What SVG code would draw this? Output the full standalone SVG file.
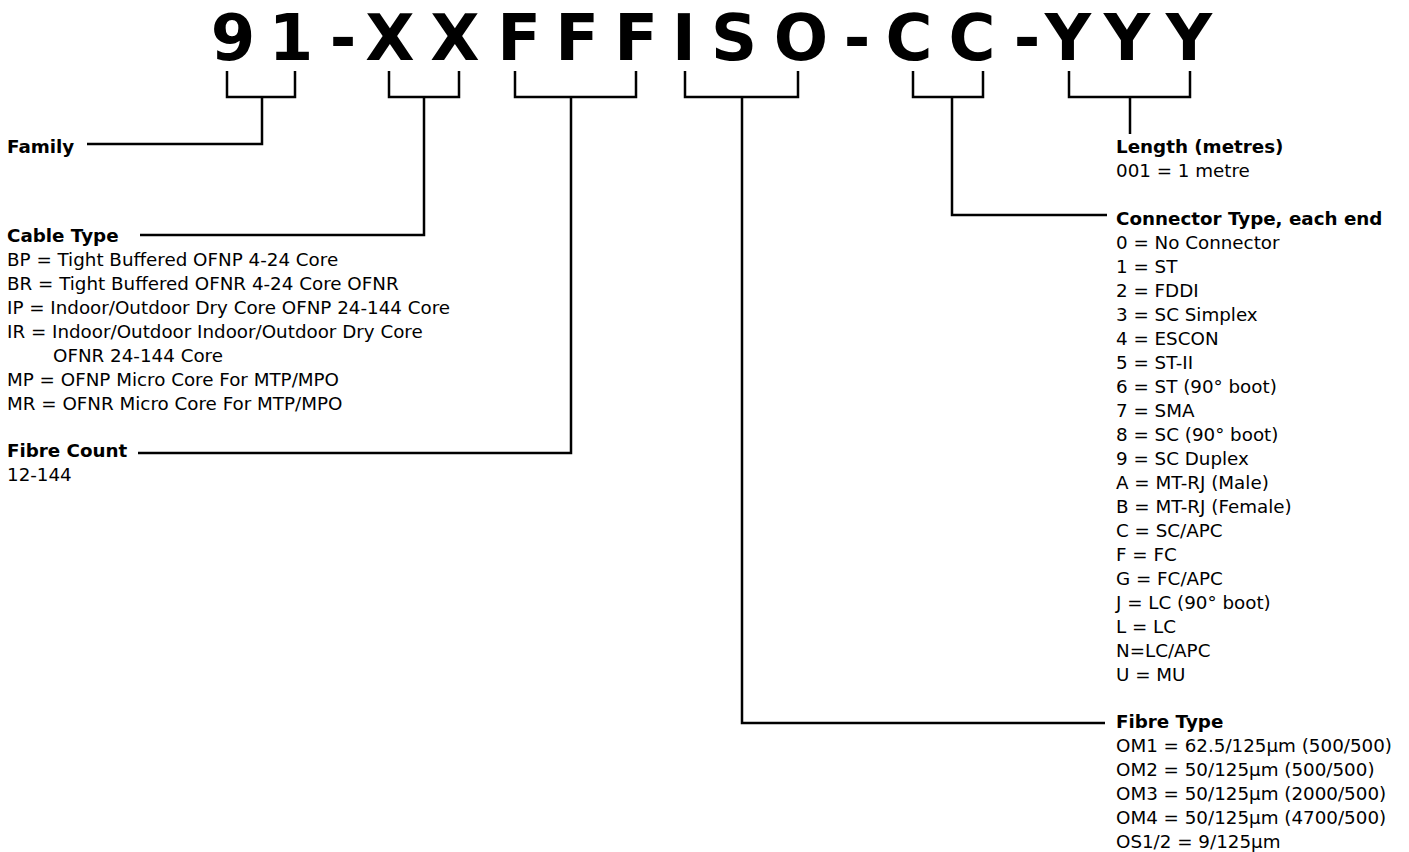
<svg xmlns="http://www.w3.org/2000/svg" width="1409" height="852" viewBox="0 0 1409 852">
<style>
text{font-family:"DejaVu Sans","Liberation Sans",sans-serif;fill:#000}
.code{font-size:64px;font-weight:bold;text-anchor:middle}
.h{font-size:18.3px;font-weight:bold}
.b{font-size:18.3px}
.ln{fill:none;stroke:#000;stroke-width:2.5;stroke-linejoin:miter;stroke-linecap:butt}
</style>
<rect width="1409" height="852" fill="#fff"/>
<g id="code">
<text class="code" x="233" y="60">9</text>
<text class="code" x="291" y="60">1</text>
<text class="code" x="343" y="60">-</text>
<text class="code" x="390" y="60">X</text>
<text class="code" x="455" y="60">X</text>
<text class="code" x="519" y="60">F</text>
<text class="code" x="577" y="60">F</text>
<text class="code" x="636" y="60">F</text>
<text class="code" x="684" y="60">I</text>
<text class="code" x="734" y="60">S</text>
<text class="code" x="801" y="60">O</text>
<text class="code" x="857" y="60">-</text>
<text class="code" x="909" y="60">C</text>
<text class="code" x="972" y="60">C</text>
<text class="code" x="1027" y="60">-</text>
<text class="code" x="1068" y="60">Y</text>
<text class="code" x="1127" y="60">Y</text>
<text class="code" x="1189" y="60">Y</text>
</g>
<g id="connectors">
<path class="ln" d="M227,71V97H295V71M262,97V144H87"/>
<path class="ln" d="M389,71V97H459V71M424,97V235H140"/>
<path class="ln" d="M515,71V97H636V71M571,97V453H138"/>
<path class="ln" d="M685,71V97H798V71M742,97V723H1105"/>
<path class="ln" d="M913,71V97H983V71M952,97V215H1107"/>
<path class="ln" d="M1069,71V97H1190V71M1130,97V134"/>
</g>
<g id="family">
<text class="h" x="7" y="153">Family</text>
</g>
<g id="cable-type">
<text class="h" x="7" y="242">Cable Type</text>
<text class="b" x="7" y="266">BP = Tight Buffered OFNP 4-24 Core</text>
<text class="b" x="7" y="290">BR = Tight Buffered OFNR 4-24 Core OFNR</text>
<text class="b" x="7" y="314">IP = Indoor/Outdoor Dry Core OFNP 24-144 Core</text>
<text class="b" x="7" y="338">IR = Indoor/Outdoor Indoor/Outdoor Dry Core</text>
<text class="b" x="53" y="362">OFNR 24-144 Core</text>
<text class="b" x="7" y="386">MP = OFNP Micro Core For MTP/MPO</text>
<text class="b" x="7" y="410">MR = OFNR Micro Core For MTP/MPO</text>
</g>
<g id="fibre-count">
<text class="h" x="7" y="457">Fibre Count</text>
<text class="b" x="7" y="481">12-144</text>
</g>
<g id="length">
<text class="h" x="1116" y="153">Length (metres)</text>
<text class="b" x="1116" y="177">001 = 1 metre</text>
</g>
<g id="connector-type">
<text class="h" x="1116" y="225">Connector Type, each end</text>
<text class="b" x="1116" y="249">0 = No Connector</text>
<text class="b" x="1116" y="273">1 = ST</text>
<text class="b" x="1116" y="297">2 = FDDI</text>
<text class="b" x="1116" y="321">3 = SC Simplex</text>
<text class="b" x="1116" y="345">4 = ESCON</text>
<text class="b" x="1116" y="369">5 = ST-II</text>
<text class="b" x="1116" y="393">6 = ST (90° boot)</text>
<text class="b" x="1116" y="417">7 = SMA</text>
<text class="b" x="1116" y="441">8 = SC (90° boot)</text>
<text class="b" x="1116" y="465">9 = SC Duplex</text>
<text class="b" x="1116" y="489">A = MT-RJ (Male)</text>
<text class="b" x="1116" y="513">B = MT-RJ (Female)</text>
<text class="b" x="1116" y="537">C = SC/APC</text>
<text class="b" x="1116" y="561">F = FC</text>
<text class="b" x="1116" y="585">G = FC/APC</text>
<text class="b" x="1116" y="609">J = LC (90° boot)</text>
<text class="b" x="1116" y="633">L = LC</text>
<text class="b" x="1116" y="657">N=LC/APC</text>
<text class="b" x="1116" y="681">U = MU</text>
</g>
<g id="fibre-type">
<text class="h" x="1116" y="728">Fibre Type</text>
<text class="b" x="1116" y="752">OM1 = 62.5/125µm (500/500)</text>
<text class="b" x="1116" y="776">OM2 = 50/125µm (500/500)</text>
<text class="b" x="1116" y="800">OM3 = 50/125µm (2000/500)</text>
<text class="b" x="1116" y="824">OM4 = 50/125µm (4700/500)</text>
<text class="b" x="1116" y="848">OS1/2 = 9/125µm</text>
</g>
</svg>
